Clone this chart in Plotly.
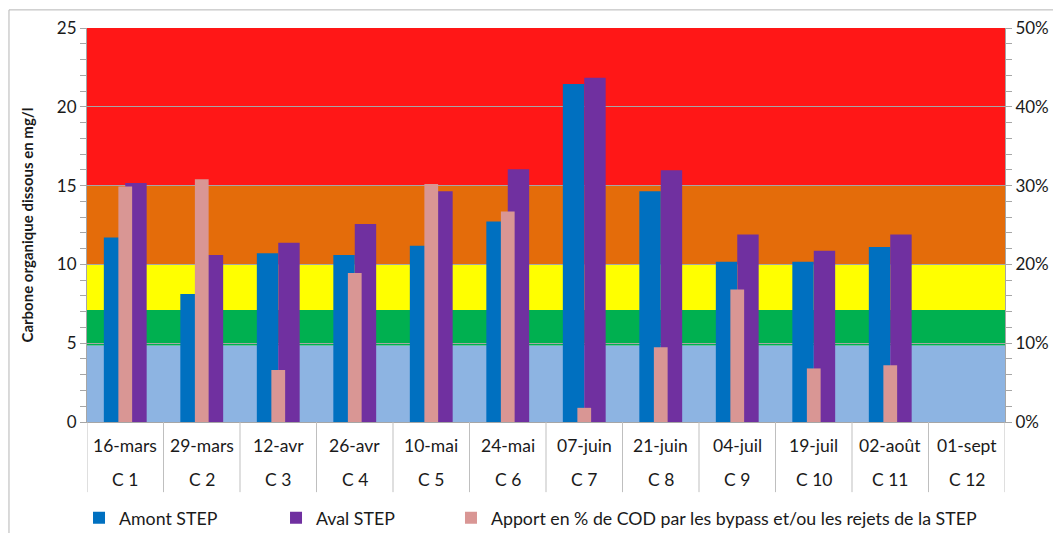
import plotly.graph_objects as go

# Sampling campaigns (date + campaign code)
dates = ["16-mars", "29-mars", "12-avr", "26-avr", "10-mai", "24-mai",
         "07-juin", "21-juin", "04-juil", "19-juil", "02-août", "01-sept"]
campaigns = ["C 1", "C 2", "C 3", "C 4", "C 5", "C 6",
             "C 7", "C 8", "C 9", "C 10", "C 11", "C 12"]

# Dissolved organic carbon (mg/l)
amont = [11.7, 8.12, 10.7, 10.6, 11.19, 12.73, 21.45, 14.64, 10.17, 10.17, 11.1, None]
aval = [15.17, 10.6, 11.38, 12.56, 14.64, 16.03, 21.85, 15.97, 11.89, 10.87, 11.89, None]
# Share of DOC brought by bypass / WWTP discharges (fraction, right axis)
apport = [0.299, 0.308, 0.066, 0.189, 0.302, 0.267, 0.018, 0.095, 0.168, 0.068, 0.072, None]

# Quality classes (mg/l) used as background bands
band_limits = [0, 4.85, 7.1, 10, 15, 25]
band_colors = ["#8DB4E2", "#00B050", "#FFFF00", "#E46C0A", "#FF1717"]

FONT = "Lato, 'Open Sans', sans-serif"
TXT = "#1a1a1a"
GRID = "#A6A6A6"

fig = go.Figure()

fig.add_trace(go.Bar(
    x=dates, y=amont, name="Amont STEP",
    marker=dict(color="#0070C0", line=dict(width=0)),
    offset=-0.28, width=0.28, legend="legend",
))
fig.add_trace(go.Bar(
    x=dates, y=aval, name="Aval STEP",
    marker=dict(color="#7030A0", line=dict(width=0)),
    offset=0, width=0.28, legend="legend2",
))
fig.add_trace(go.Bar(
    x=dates, y=apport, name="Apport en % de COD par les bypass et/ou les rejets de la STEP",
    marker=dict(color="#D99694", line=dict(width=0)),
    offset=-0.09, width=0.18, yaxis="y2", legend="legend3",
))

shapes = []
for lo, hi, col in zip(band_limits[:-1], band_limits[1:], band_colors):
    shapes.append(dict(type="rect", xref="paper", x0=0, x1=1, yref="y", y0=lo, y1=hi,
                       fillcolor=col, line=dict(width=0), layer="below"))

# separators of the two-level category axis
for i in range(len(dates) + 1):
    shapes.append(dict(type="line", xref="x", x0=i - 0.5, x1=i - 0.5,
                       yref="paper", y0=0, y1=-0.178,
                       line=dict(color="#BFBFBF", width=1)))

# outer chart border
shapes.append(dict(type="rect", xref="paper", x0=-0.085, x1=1.0577,
                   yref="paper", y0=-0.35, y1=1.046,
                   line=dict(color="#B5B5B5", width=1), fillcolor="rgba(0,0,0,0)"))

annotations = []
for d, c in zip(dates, campaigns):
    annotations.append(dict(x=d, xref="x", y=-0.06, yref="paper", text=d,
                            showarrow=False, yanchor="middle",
                            font=dict(family=FONT, size=17.5, color=TXT)))
    annotations.append(dict(x=d, xref="x", y=-0.147, yref="paper", text=c,
                            showarrow=False, yanchor="middle",
                            font=dict(family=FONT, size=17.5, color=TXT)))

leg = dict(orientation="h", yanchor="middle", y=-0.244, xanchor="left",
           bgcolor="rgba(0,0,0,0)", font=dict(family=FONT, size=17.75, color=TXT))

# page body has an 8px margin, so the figure is 8px smaller than the window
fig.update_layout(
    width=1053, height=525,
    margin=dict(l=79, r=56, t=20, b=111, autoexpand=False),
    paper_bgcolor="white", plot_bgcolor="white",
    barmode="overlay", showlegend=True,
    shapes=shapes, annotations=annotations,
    font=dict(family=FONT, color=TXT),
    legend={**leg, "x": -0.0087},
    legend2={**leg, "x": 0.2059},
    legend3={**leg, "x": 0.3965},
    xaxis=dict(type="category", categoryarray=dates, range=[-0.5, 11.5],
               showticklabels=False, ticks="", showgrid=False,
               showline=True, linecolor=GRID, linewidth=1),
    yaxis=dict(range=[0, 25], dtick=5, tick0=0,
               title=dict(text="<b>Carbone organique dissous en mg/l</b>",
                          font=dict(family=FONT, size=15, color=TXT), standoff=19),
               tickfont=dict(family=FONT, size=17, color=TXT),
               ticks="outside", ticklen=6, tickcolor=GRID,
               minor=dict(dtick=1, ticks="outside", ticklen=6, tickcolor=GRID, showgrid=False),
               showgrid=True, gridcolor=GRID, gridwidth=1, zeroline=False,
               showline=True, linecolor=GRID, linewidth=1),
    yaxis2=dict(range=[0, 0.5], dtick=0.1, tick0=0, tickformat=".0%",
                overlaying="y", side="right",
                tickfont=dict(family=FONT, size=17, color=TXT),
                ticks="outside", ticklen=6, tickcolor=GRID,
                minor=dict(dtick=0.02, ticks="outside", ticklen=6, tickcolor=GRID, showgrid=False),
                showgrid=False, zeroline=False,
                showline=True, linecolor=GRID, linewidth=1),
)

fig.write_html("out.html")
